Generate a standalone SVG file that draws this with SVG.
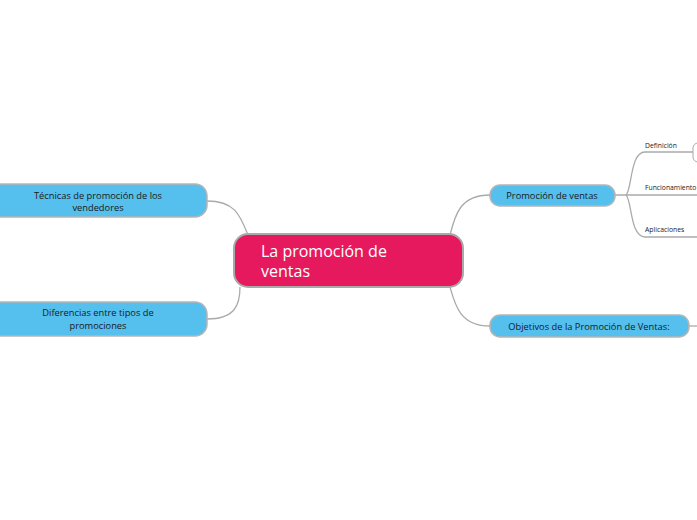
<svg xmlns="http://www.w3.org/2000/svg" width="697" height="520" viewBox="0 0 697 520">
<style>
.main{fill:#E6195E;stroke:#A9A9A9;stroke-width:2}
.sub{fill:#55BFEE;stroke:#B5B5B5;stroke-width:1.5}
.con{fill:none;stroke:#AAAAAA;stroke-width:1.3}
.t1{font-family:"Open Sans",Lato,sans-serif;font-size:16px;fill:#FFFFFF}
.t2{font-family:"Open Sans",Lato,sans-serif;font-size:9.3px;fill:#1A1A1A;text-anchor:middle}
.t3{font-family:"Open Sans",Lato,sans-serif;font-size:6.8px;fill:#1A1A1A}
</style>
<rect width="697" height="520" fill="#FFFFFF"/>
<g id="connectors">
<path class="con" d="M207,201 C235,201 240,215 248,235"/>
<path class="con" d="M207,319 C235,319 240,305 240,287"/>
<path class="con" d="M490,195 C460,195 455,215 450,235"/>
<path class="con" d="M490,326 C460,326 455,305 450,287"/>
<path class="con" d="M689,326 L697,326"/>
<path class="con" d="M615,195 L697,195"/>
<path class="con" d="M626,195 C632,190 630,152 645,152 L693,152"/>
<path class="con" d="M626,195 C632,200 630,237 645,237 L697,237"/>
</g>
<g id="central">
<rect class="main" x="234" y="234" width="229" height="53" rx="14"/>
<text class="t1" x="261" y="257">La promoción de</text>
<text class="t1" x="261" y="277">ventas</text>
</g>
<g id="promocion">
<rect class="sub" x="490" y="185" width="125" height="21" rx="10"/>
<text class="t2" x="552" y="199">Promoción de ventas</text>
</g>
<g id="objetivos">
<rect class="sub" x="490" y="315" width="199" height="22" rx="10"/>
<text class="t2" x="589" y="330">Objetivos de la Promoción de Ventas:</text>
</g>
<g id="tecnicas">
<rect class="sub" x="-12" y="184" width="219" height="33" rx="12"/>
<text class="t2" x="98" y="199">Técnicas de promoción de los</text>
<text class="t2" x="98" y="211">vendedores</text>
</g>
<g id="diferencias">
<rect class="sub" x="-12" y="302" width="219" height="34" rx="12"/>
<text class="t2" x="98" y="316">Diferencias entre tipos de</text>
<text class="t2" x="98" y="329">promociones</text>
</g>
<g id="definicion">
<text class="t3" x="645" y="148">Definición</text>
<rect x="693" y="143" width="20" height="19" rx="5" fill="#FFFFFF" stroke="#AAAAAA" stroke-width="1"/>
</g>
<g id="funcionamiento">
<text class="t3" x="645" y="190">Funcionamiento</text>
</g>
<g id="aplicaciones">
<text class="t3" x="645" y="232">Aplicaciones</text>
</g>
</svg>
